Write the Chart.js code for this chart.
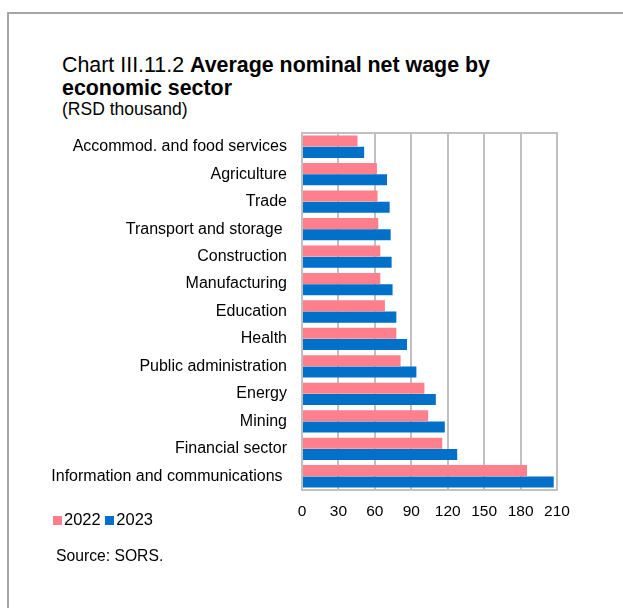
<!DOCTYPE html>
<html>
<head>
<meta charset="utf-8">
<script src="https://cdn.jsdelivr.net/npm/chart.js@4.4.1/dist/chart.umd.min.js"></script>
<style>
  html, body { margin: 0; padding: 0; background: #fff; }
  body { width: 623px; height: 608px; position: relative; overflow: hidden;
         font-family: "Liberation Sans", Arial, sans-serif; color: #000; }
  #frame { position: absolute; left: 7px; top: 12px; width: 640px; height: 620px;
           border-left: 2px solid #a6a6a6; border-top: 2px solid #a6a6a6; }
  #title { position: absolute; left: 62px; top: 54px; font-size: 21.4px; line-height: 23px; white-space: nowrap; }
  #unit { position: absolute; left: 62px; top: 99px; font-size: 17.5px; line-height: 20px; }
  #legend { position: absolute; left: 53px; top: 510px; font-size: 16.5px; line-height: 19px; white-space: nowrap; }
  #legend span.box { display: inline-block; width: 9px; height: 9px; margin-right: 2px; }
  #source { position: absolute; left: 56px; top: 547px; font-size: 15.7px; line-height: 18px; }
  #wrap { position: absolute; left: 0; top: 0; width: 623px; height: 608px; }
</style>
</head>
<body>
<div id="frame"></div>
<div id="title">Chart III.11.2 <b>Average nominal net wage by<br>economic sector</b></div>
<div id="unit">(RSD thousand)</div>
<div id="wrap"><canvas id="chart" width="623" height="608"></canvas></div>
<div id="legend"><span class="box" style="background:#ff808c"></span>2022 <span class="box" style="background:#0070c8"></span>2023</div>
<div id="source">Source: SORS.</div>
<script>
'use strict';

// Sectors, top to bottom
const sectors = [
    'Accommod. and food services',
    'Agriculture',
    'Trade',
    'Transport and storage ',
    'Construction',
    'Manufacturing',
    'Education',
    'Health',
    'Public administration',
    'Energy',
    'Mining',
    'Financial sector',
    'Information and communications '
];

// Average net wage, RSD thousand
const wages2022 = [45.7, 61.7, 62.2, 62.8, 64.5, 64.5, 68.3, 77.7, 81.2, 100.8, 103.9, 115.5, 185.3];
const wages2023 = [51.2, 70.0, 72.2, 73.0, 73.8, 74.6, 77.7, 86.5, 94.2, 110.2, 117.6, 127.8, 207.3];

const xTicks = [0, 30, 60, 90, 120, 150, 180, 210];

const gridColor = '#c0c0c0';

// Outline around the plot area
const plotBorder = {
    id: 'plotBorder',
    afterDatasetsDraw(chart) {
        const a = chart.chartArea;
        const ctx = chart.ctx;
        ctx.save();
        ctx.strokeStyle = gridColor;
        ctx.lineWidth = 2;
        ctx.strokeRect(a.left, a.top, a.right - a.left, a.bottom - a.top);
        ctx.restore();
    }
};

new Chart(document.getElementById('chart'), {
    type: 'bar',
    data: {
        labels: sectors,
        datasets: [
            {
                label: '2022',
                data: wages2022,
                backgroundColor: '#ff808c',
                categoryPercentage: 0.82,
                barPercentage: 0.98
            },
            {
                label: '2023',
                data: wages2023,
                backgroundColor: '#0070c8',
                categoryPercentage: 0.82,
                barPercentage: 0.98
            }
        ]
    },
    options: {
        indexAxis: 'y',
        responsive: false,
        animation: false,
        layout: {
            padding: { top: 133, right: 66, bottom: 88, left: 0 }
        },
        plugins: {
            legend: { display: false },
            tooltip: { enabled: false }
        },
        scales: {
            x: {
                min: 0,
                max: 210,
                afterBuildTicks: function(scale) {
                    scale.ticks = xTicks.map(v => ({ value: v }));
                },
                afterFit: function(scale) {
                    scale.height = 30;
                },
                grid: { color: gridColor, lineWidth: 2, drawTicks: false },
                border: { display: false },
                ticks: {
                    color: '#000',
                    padding: 12,
                    maxRotation: 0,
                    font: { family: 'Liberation Sans', size: 15.5 }
                }
            },
            y: {
                afterFit: function(scale) {
                    scale.width = 302;
                },
                grid: { display: false, drawTicks: false },
                border: { display: false },
                ticks: {
                    color: '#000',
                    padding: 15,
                    autoSkip: false,
                    font: { family: 'Liberation Sans', size: 16 }
                }
            }
        }
    },
    plugins: [plotBorder]
});
</script>
</body>
</html>
